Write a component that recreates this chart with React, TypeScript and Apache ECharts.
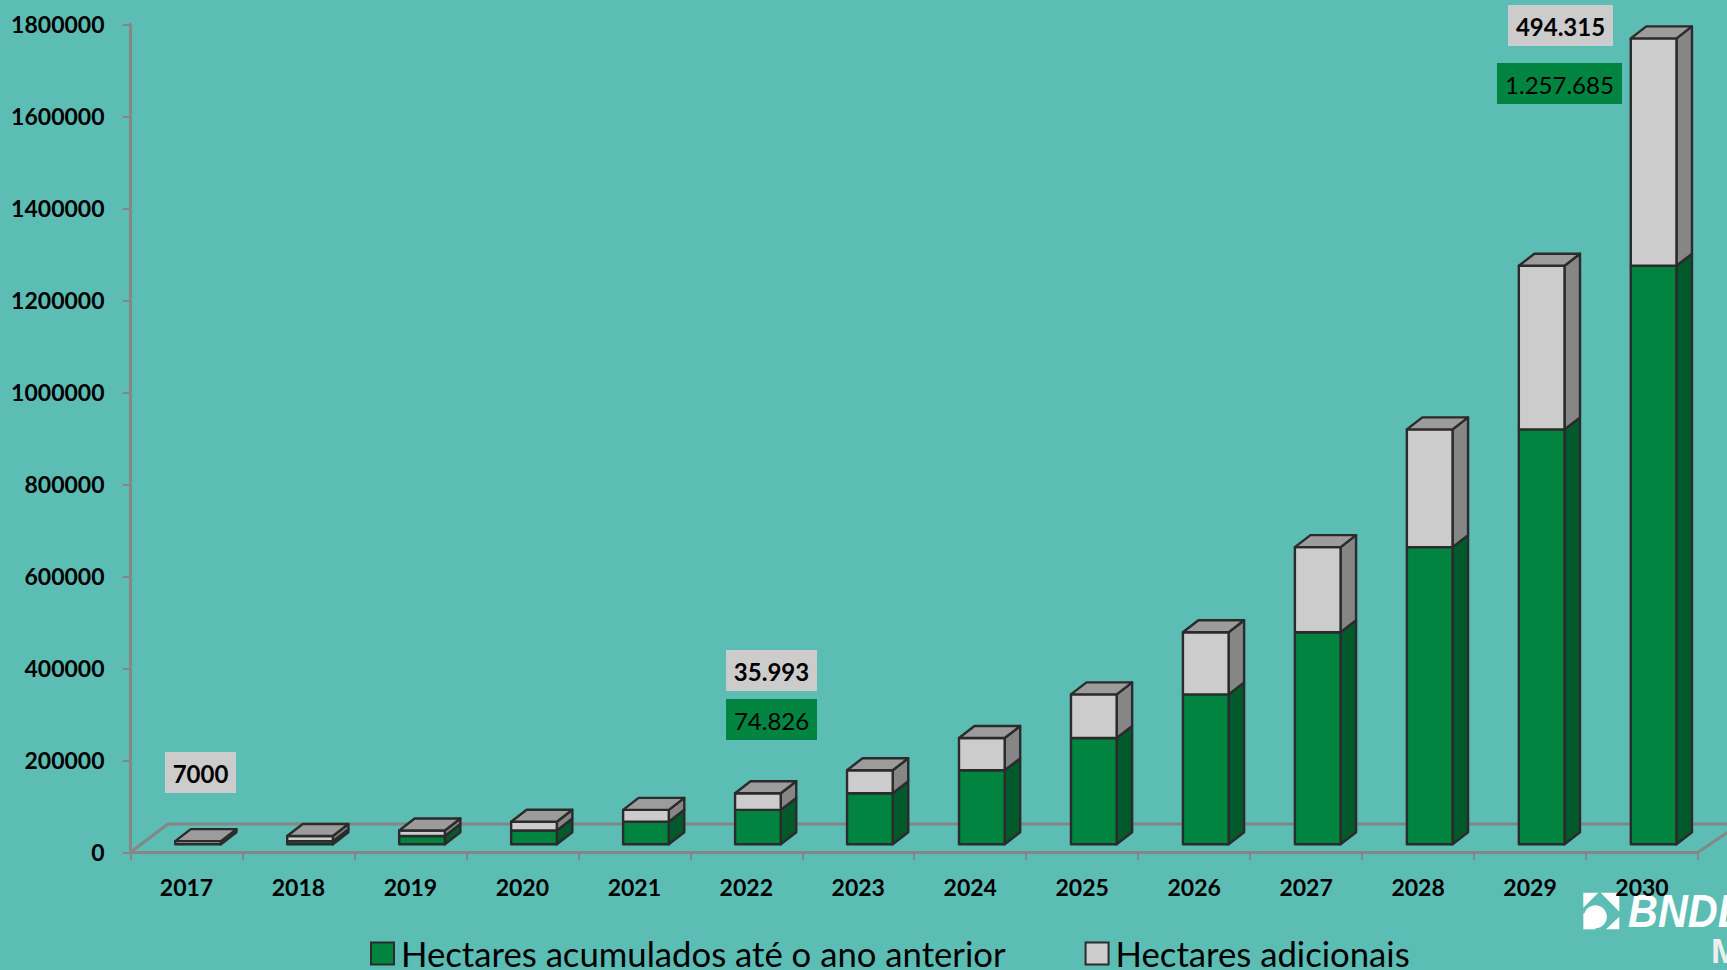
import React, { useEffect, useRef } from "react";
import * as echarts from "echarts";

const years = ["2017","2018","2019","2020","2021","2022","2023","2024","2025","2026","2027","2028","2029","2030"];
const accumulated = [0,7000,18000,30000,49000,74826,110819,161000,231000,326000,461000,646000,902000,1257685];
const additional = [7000,11000,12000,19000,25826,35993,50181,70000,95000,135000,185000,256000,355685,494315];
const seriesNames = ["Hectares acumulados até o ano anterior", "Hectares adicionais"];

const BG = "#5cbdb4";
const GREEN = "#00843f";
const GREEN_SIDE = "#005a2b";
const GRAY = "#cccccc";
const GRAY_SIDE = "#868686";
const TOP = "#9c9c9c";
const EDGE = "#2b2b2b";
const AXIS = "#868686";

const renderBar = (front: string, side: string, withTop: boolean) => (_p: any, api: any) => {
  const cat = api.size([1, 0])[0];
  const w = cat * 0.408, dx = 15.5, dy = 12, lift = 8;
  const c = api.value(0);
  const low = api.coord([c, api.value(1)]);
  const high = api.coord([c, api.value(2)]);
  if (Math.abs(low[1] - high[1]) < 0.01) return { type: "group", children: [] };
  const l = low[0] - cat * 0.103 + 0.3, r = l + w;
  const y0 = low[1] - lift, y1 = high[1] - lift;
  const st = (fill: string) => ({ fill, stroke: EDGE, lineWidth: 2.4, lineJoin: "round" });
  const children: any[] = [
    { type: "polygon", shape: { points: [[r, y0], [r + dx, y0 - dy], [r + dx, y1 - dy], [r, y1]] }, style: st(side) },
    { type: "polygon", shape: { points: [[l, y0], [r, y0], [r, y1], [l, y1]] }, style: st(front) },
  ];
  if (withTop) {
    children.push({ type: "polygon", shape: { points: [[l, y1], [l + dx, y1 - dy], [r + dx, y1 - dy], [r, y1]] }, style: st(TOP) });
  }
  return { type: "group", children };
};

const box = (x: number, y: number, w: number, h: number, fill: string, text: string, bold: boolean) => [
  { type: "rect", shape: { x, y, width: w, height: h }, style: { fill } },
  {
    type: "text", x: x + w / 2, y: y + h / 2 + 1,
    style: { text, fill: "#000", font: `${bold ? "bold " : ""}24px Lato`, textAlign: "center", textVerticalAlign: "middle" },
  },
];

const poly = (pts: number[][]) => ({
  type: "polygon",
  shape: { points: pts.map(([a, b]) => [1570 + a / 3, 880 + b / 3]) },
  style: { fill: "#ffffff" },
});

export default function App() {
  const ref = useRef<HTMLDivElement>(null);
  useEffect(() => {
    document.body.style.margin = "0";
    document.body.style.overflow = "hidden";
    const chart = echarts.init(ref.current!, null, { renderer: "svg" });
    chart.setOption({
      animation: false,
      backgroundColor: BG,
      grid: { left: 130.5, top: 24.3, width: 1567.5, height: 828 },
      xAxis: {
        type: "category", data: years, boundaryGap: true,
        axisLine: { lineStyle: { color: AXIS, width: 3 } },
        axisTick: { show: true, length: 8, alignWithLabel: false, lineStyle: { color: AXIS, width: 2 } },
        axisLabel: { interval: 0, color: "#000", fontFamily: "Lato", fontWeight: "bold", fontSize: 23, margin: 23 },
      },
      yAxis: {
        type: "value", min: 0, max: 1800000, interval: 200000,
        splitLine: { show: false },
        axisLine: { show: true, lineStyle: { color: AXIS, width: 3 } },
        axisTick: { show: true, length: 8, lineStyle: { color: AXIS, width: 2 } },
        axisLabel: { color: "#000", fontFamily: "Lato", fontWeight: "bold", fontSize: 23, margin: 26, padding: [3, 0, 0, 0], formatter: (v: number) => String(v) },
      },
      legend: {
        left: 370, top: 936, itemGap: 79, itemWidth: 23, itemHeight: 22, padding: 0,
        icon: "rect",
        textStyle: { color: "#000", fontFamily: "Lato", fontSize: 34.7, lineHeight: 34, padding: [0, 0, 0, 2] },
        data: seriesNames,
      },
      graphic: [
        {
          type: "polyline", z: 0,
          shape: { points: [[130.5, 852.3], [168, 824], [1740, 824], [1698, 852.3]] },
          style: { fill: "none", stroke: AXIS, lineWidth: 3 },
        },
        ...box(165, 752, 71, 41, GRAY, "7000", true),
        ...box(726, 650, 91, 41, GRAY, "35.993", true),
        ...box(726, 699, 91, 41, GREEN, "74.826", false),
        ...box(1508, 5, 105, 41, GRAY, "494.315", true),
        ...box(1497, 63, 125, 41, GREEN, "1.257.685", false),
        poly([[40, 38], [85, 38], [40, 83]]),
        poly([[92, 38], [148, 38], [148, 95]]),
        poly([[148, 110], [148, 148], [108, 148]]),
        { type: "circle", shape: { cx: 1570 + 76 / 3, cy: 880 + 110 / 3, r: 11.5 }, style: { fill: "#ffffff" } },
        poly([[40, 100], [76, 100], [76, 148], [40, 148]]),
        { type: "text", x: 1628, y: 934, scaleX: 0.9, style: { text: "BNDES", fill: "#ffffff", font: "italic bold 46px 'Liberation Sans'", textAlign: "left", textVerticalAlign: "bottom" } },
        { type: "text", x: 1711, y: 968, style: { text: "M", fill: "#eeeeee", font: "bold 35px 'Liberation Sans'", textAlign: "left", textVerticalAlign: "bottom" } },
      ],
      series: [
        {
          name: seriesNames[0], type: "custom", clip: false,
          renderItem: renderBar(GREEN, GREEN_SIDE, false),
          encode: { x: 0, y: 2 },
          itemStyle: { color: GREEN, borderColor: EDGE, borderWidth: 2 },
          data: accumulated.map((v, i) => [i, 0, v]),
        },
        {
          name: seriesNames[1], type: "custom", clip: false,
          renderItem: renderBar(GRAY, GRAY_SIDE, true),
          encode: { x: 0, y: 2 },
          itemStyle: { color: GRAY, borderColor: EDGE, borderWidth: 2 },
          data: additional.map((v, i) => [i, accumulated[i], accumulated[i] + v]),
        },
      ],
    });
    return () => chart.dispose();
  }, []);
  return <div ref={ref} style={{ position: "fixed", left: 0, top: 0, width: 1727, height: 970 }} />;
}
